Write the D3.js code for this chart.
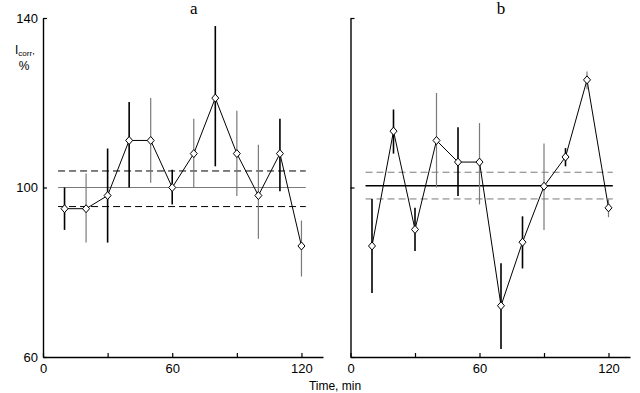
<!DOCTYPE html>
<html>
<head>
<meta charset="utf-8">
<script src="https://cdn.jsdelivr.net/npm/d3@7"></script>
<style>
  body { margin: 0; background: #fff; }
  svg { display: block; }
  .tick text { font-family: "Liberation Sans", Arial, sans-serif; font-size: 13px; fill: #000; }
</style>
</head>
<body>
<svg id="chart" width="640" height="393"></svg>
<script>
// time points (min)
var times = [10, 20, 30, 40, 50, 60, 70, 80, 90, 100, 110, 120];

// panel a
var meanA = [95, 95, 98.1, 111.1, 111.1, 100, 108, 121.1, 108, 98.1, 108, 86.2];
var lowA  = [90, 87, 87, 100, 101.1, 96, 100, 105, 98, 87.9, 99.1, 79];
var highA = [100, 103.3, 109.2, 120.2, 121.1, 104.2, 116.2, 138.1, 118.1, 110.1, 116.2, 92.2];
var toneA = ["dark", "gray", "dark", "dark", "gray", "dark", "gray", "dark", "gray", "gray", "dark", "gray"];
var refA = { mid: 100, upper: 103.9, lower: 95.5 };

// panel b
var meanB = [86.2, 113.3, 90.1, 111.1, 106, 106, 72.1, 87.1, 100.3, 107.2, 125.4, 95.2];
var lowB  = [75.1, 108, 85, 100, 98, 96, 61.9, 80.9, 90, 105, 123.2, 93];
var highB = [97.3, 118.4, 95.2, 122.3, 114.2, 115.2, 82.1, 93.2, 110.4, 109.3, 127.4, 97.2];
var toneB = ["dark", "dark", "dark", "gray", "dark", "gray", "dark", "dark", "gray", "dark", "gray", "gray"];
var refB = { mid: 100.4, upper: 103.6, lower: 97.3 };

var xTicks = [0, 30, 60, 90, 120];
var xLabels = [0, 60, 120];
var yTicks = [60, 100, 140];
var refSpan = [7, 122];

var svg = d3.select("#chart");
var toneColor = { dark: "#000", gray: "#7a7a7a" };

var y = d3.scaleLinear().domain([60, 140]).range([357, 18]);

function panel(opts) {
    var x = d3.scaleLinear().domain([0, 130]).range(opts.range);
    var g = svg.append("g");

    var data = times.map(function(t, i) {
        return { t: t, m: opts.mean[i], lo: opts.low[i], hi: opts.high[i], tone: opts.tone[i] };
    });

    // reference lines
    g.append("line")
        .attr("x1", x(refSpan[0])).attr("x2", x(refSpan[1]))
        .attr("y1", y(opts.ref.mid)).attr("y2", y(opts.ref.mid))
        .attr("stroke", opts.midColor).attr("stroke-width", opts.midWidth);
    [opts.ref.upper, opts.ref.lower].forEach(function(v) {
        g.append("line")
            .attr("x1", x(refSpan[0])).attr("x2", x(refSpan[1]))
            .attr("y1", y(v)).attr("y2", y(v))
            .attr("stroke", opts.dashColor).attr("stroke-width", 1)
            .attr("stroke-dasharray", "7,4");
    });

    // error bars
    g.selectAll(".err").data(data).enter().append("line")
        .attr("class", "err")
        .attr("x1", function(d) { return x(d.t); })
        .attr("x2", function(d) { return x(d.t); })
        .attr("y1", function(d) { return y(d.hi); })
        .attr("y2", function(d) { return y(d.lo); })
        .attr("stroke", function(d) { return toneColor[d.tone]; })
        .attr("stroke-width", function(d) { return d.tone == "dark" ? 1.6 : 1.2; });

    // connecting line
    g.append("path")
        .datum(data)
        .attr("fill", "none")
        .attr("stroke", "#000")
        .attr("stroke-width", 1)
        .attr("d", d3.line().x(function(d) { return x(d.t); }).y(function(d) { return y(d.m); }));

    // diamond markers
    g.selectAll(".pt").data(data).enter().append("path")
        .attr("class", "pt")
        .attr("transform", function(d) { return "translate(" + x(d.t) + "," + y(d.m) + ")"; })
        .attr("d", "M0,-4L3.5,0L0,4L-3.5,0Z")
        .attr("fill", "#fff")
        .attr("stroke", "#000")
        .attr("stroke-width", 1);

    // axes
    var xAxis = g.append("g")
        .attr("transform", "translate(0," + y(60) + ")")
        .call(d3.axisBottom(x).tickValues(xTicks).tickSizeInner(-4).tickSizeOuter(0).tickPadding(7)
            .tickFormat(function(d) { return xLabels.indexOf(d) >= 0 ? d : ""; }));
    var yAxis = g.append("g")
        .attr("transform", "translate(" + opts.range[0] + ",0)")
        .call(d3.axisLeft(y).tickValues(yTicks).tickSizeInner(-4).tickSizeOuter(0).tickPadding(5)
            .tickFormat(function(d) { return opts.yLabels ? d : ""; }));
    [xAxis, yAxis].forEach(function(a) {
        a.select(".domain").attr("stroke", "#000").attr("stroke-width", 1.4);
        a.selectAll(".tick line").attr("stroke", "#000").attr("stroke-width", 1.2);
    });

    // panel letter
    g.append("text")
        .attr("x", x(70)).attr("y", 14)
        .attr("text-anchor", "middle")
        .attr("font-family", "'Liberation Serif', 'Times New Roman', serif")
        .attr("font-size", 17)
        .text(opts.letter);
}

panel({ range: [43, 323], mean: meanA, low: lowA, high: highA, tone: toneA, ref: refA,
        midColor: "#7a7a7a", midWidth: 1.2, dashColor: "#000", yLabels: true, letter: "a" });
panel({ range: [350.5, 630], mean: meanB, low: lowB, high: highB, tone: toneB, ref: refB,
        midColor: "#000", midWidth: 1.6, dashColor: "#7a7a7a", yLabels: false, letter: "b" });

// y-axis label
var yl = svg.append("text")
    .attr("font-family", "'Liberation Sans', Arial, sans-serif")
    .attr("fill", "#000")
    .attr("font-size", 12);
yl.append("tspan").attr("x", 15).attr("y", 54).text("I");
yl.append("tspan").attr("dy", 2).attr("font-size", 8).text("corr");
yl.append("tspan").attr("dy", -2).attr("font-size", 9).text(",");
svg.append("text")
    .attr("x", 24).attr("y", 70)
    .attr("text-anchor", "middle")
    .attr("font-family", "'Liberation Sans', Arial, sans-serif")
    .attr("font-size", 12)
    .text("%");

// x-axis title
svg.append("text")
    .attr("x", 335).attr("y", 390)
    .attr("text-anchor", "middle")
    .attr("font-family", "'Liberation Sans', Arial, sans-serif")
    .attr("font-size", 12)
    .text("Time, min");
</script>
</body>
</html>
